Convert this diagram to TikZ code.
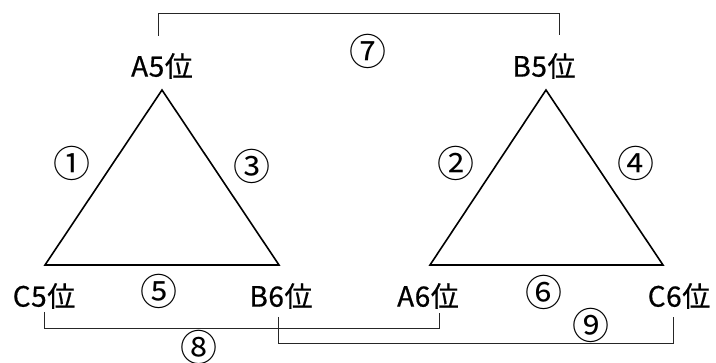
\documentclass[tikz,border=0pt]{standalone}
\usepackage{fontspec}
\setmainfont{Noto Sans CJK JP}
\newfontfamily\labfont[LetterSpace=2, FakeBold=0.6]{Noto Sans CJK JP}
\usetikzlibrary{calc}

\begin{document}
\begin{tikzpicture}[x=1pt, y=-1pt,
        font=\labfont\fontsize{28}{32}\selectfont,
        tri/.style={draw, line width=1.6pt, line join=miter},
        brk/.style={draw, line width=0.9pt, black!85},
        lab/.style={inner sep=0pt},
        num/.style={inner sep=0pt, font=\fontsize{37}{40}\selectfont}]
        \useasboundingbox (0,0) rectangle (716,363);
        % left triangle
        \coordinate (la) at (162,90);
        \coordinate (lc) at (45,265);
        \coordinate (lb) at (279,265);
        % right triangle
        \coordinate (ra) at (546,90);
        \coordinate (rb) at (430,265);
        \coordinate (rc) at (663,265);
        \draw[tri] (la) -- (lb) -- (lc) -- cycle;
        \draw[tri] (ra) -- (rc) -- (rb) -- cycle;
        % phases
        \node[lab] (a5) at (162,66) {A5位};
        \node[lab] (b5) at (544,66) {B5位};
        \node[lab] (c5) at (44,296) {C5位};
        \node[lab] (b6) at (281,296) {B6位};
        \node[lab] (a6) at (428,296) {A6位};
        \node[lab] (c6) at (679,296) {C6位};
        % numbers
        \node[num] (n1) at (72,163) {①};
        \node[num] (n2) at (456,163) {②};
        \node[num] (n3) at (252,166) {③};
        \node[num] (n4) at (636,163) {④};
        \node[num] (n5) at (159,291) {⑤};
        \node[num] (n6) at (544,292) {⑥};
        \node[num] (n7) at (368,51) {⑦};
        \node[num] (n8) at (199,347) {⑧};
        \node[num] (n9) at (591,325) {⑨};
        % brackets
        \draw[brk] ($(a5)+(-4,-30)$) -- ++(0,-23) -| ($(b5)+(15,-31)$);
        \draw[brk] ($(c5)+(0,16)$) -- ++(0,16) -| ($(a6)+(11,17)$);
        \draw[brk] ($(b6)+(-3,21)$) -- ++(0,26) -| ($(c6)+(-6,21)$);
    \end{tikzpicture}
\end{document}
